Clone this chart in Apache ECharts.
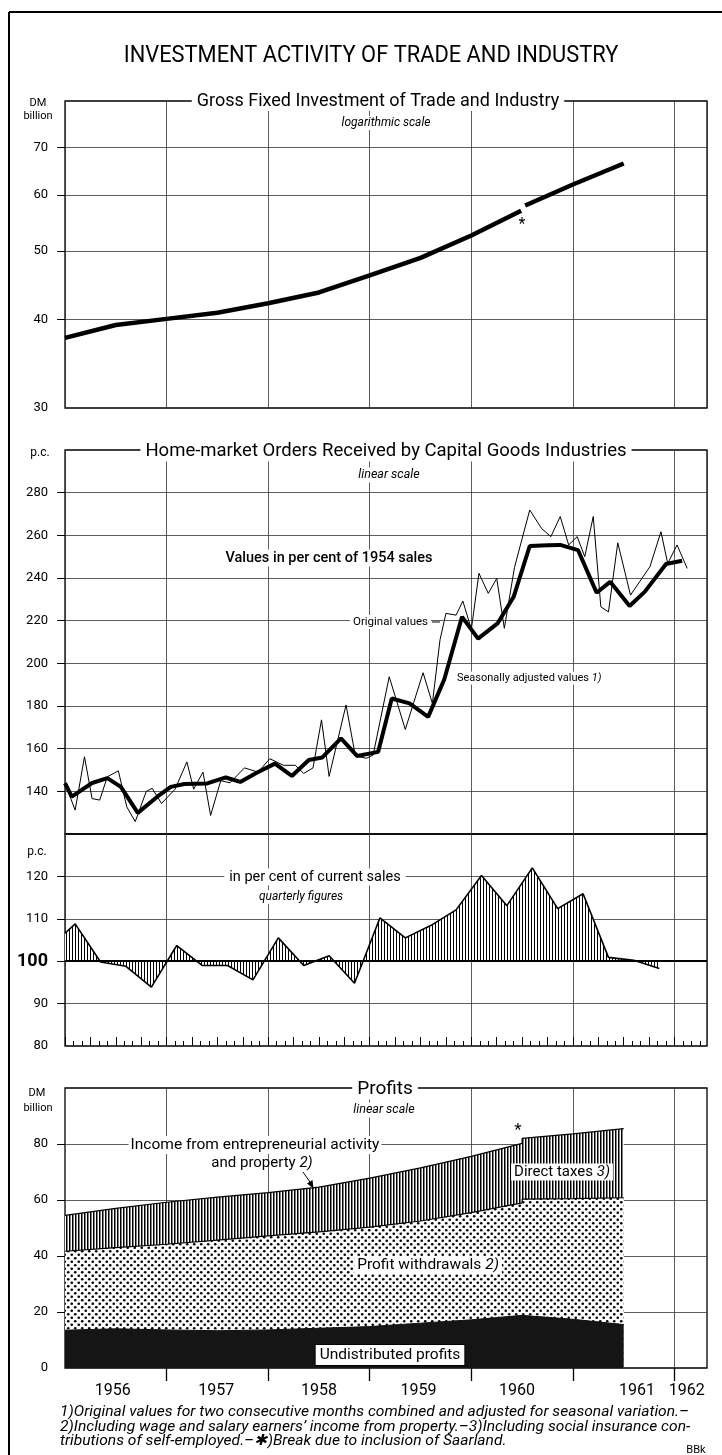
<!DOCTYPE html>
<html><head><meta charset="utf-8">
<script src="https://cdn.jsdelivr.net/npm/echarts@6/dist/echarts.min.js"></script>
<style>html,body{margin:0;padding:0;background:#fff}#c{width:722px;height:1455px}</style>
</head><body><div id="c"></div><script>
// ---------------- DATA ----------------
const YEARS = ['1956','1957','1958','1959','1960','1961','1962'];
const yearLabelPos = [1956.47,1957.49,1958.5,1959.48,1960.45,1961.63,1962.12];
const yearBounds = [1957,1958,1959,1960,1961,1962];

// Panel 1: gross fixed investment, DM billion (log scale), break 1960 (Saarland)
const invX1 = [1956.0,1956.5,1957.0,1957.5,1958.0,1958.5,1959.0,1959.5,1960.0,1960.49];
const invV1 = [37.7,39.3,40.1,40.9,42.2,43.7,46.2,48.9,52.6,57.0];
const invX2 = [1960.53,1961.0,1961.5];
const invV2 = [58.0,62.1,66.5];
const invTicks = [30,40,50,60,70];

// Panel 2: home-market orders, p.c. of 1954 sales (month index from Jan 1956)
const origM = [0,1.2,2.3,3.2,4.1,5.0,6.3,7.3,8.3,9.6,10.3,11.4,13.0,14.4,15.2,16.3,17.2,18.4,19.5,21.2,22.8,24.2,25.8,27.2,28.2,29.3,30.3,31.2,33.2,34.3,35.6,36.4,38.3,40.2,42.3,43.4,44.3,45.0,46.2,47.0,48.0,48.9,50.0,51.0,51.9,53.1,54.9,56.3,57.4,58.5,59.5,60.5,61.4,62.4,63.3,64.2,65.3,66.8,69.1,70.4,71.2,72.3,73.5];
const origV = [143.8,131.2,156.2,136.6,135.9,146.8,149.6,132.7,125.8,140.0,141.4,134.3,141.0,153.8,141.0,149.0,128.7,145.0,144.0,151.0,149.0,155.3,152.2,152.2,148.4,151.0,173.5,147.0,180.5,156.6,155.5,157.0,193.7,169.0,195.6,181.2,211.0,223.4,222.6,229.2,216.0,242.2,232.8,239.8,216.4,245.0,271.9,263.2,259.4,268.8,255.5,259.4,250.0,268.8,226.5,224.1,256.5,232.0,245.3,261.7,246.8,255.5,244.5];
const saM = [0,0.8,3.2,5.0,6.6,8.6,10.9,12.5,14.1,16.8,19.0,20.7,22.7,24.8,26.8,28.8,30.4,32.6,34.5,37.0,38.6,40.7,42.9,44.8,46.9,48.8,51.1,53.0,54.9,57.0,58.5,60.6,62.8,64.4,66.7,68.5,71.0,72.9];
const saV = [143.8,137.5,143.9,146.2,142.1,129.9,137.5,142.1,143.4,143.7,146.5,144.4,148.8,153.0,147.2,154.7,155.9,164.8,156.6,158.5,183.5,181.2,174.9,192.4,221.8,211.6,218.7,231.2,255.0,255.4,255.5,253.1,233.1,238.2,226.9,233.6,246.6,248.1];
const ordTicks = [140,160,180,200,220,240,260,280];

// Panel 2 lower: in per cent of current sales, quarterly
const qX = [1956.0,1956.1,1956.35,1956.6,1956.85,1957.1,1957.35,1957.6,1957.85,1958.1,1958.35,1958.6,1958.85,1959.1,1959.35,1959.6,1959.85,1960.1,1960.35,1960.6,1960.85,1961.1,1961.35,1961.6,1961.85];
const qV = [106.6,108.8,99.8,98.8,93.9,103.7,99.0,99.0,95.6,105.5,99.0,101.3,94.8,110.2,105.5,108.4,112.1,120.2,113.1,122.0,112.4,115.9,100.9,100.2,98.3];
const qTicks = [80,90,100,110,120];

// Panel 3: profits, DM billion (upper edges of the bands), break 1960
const profX = [1956.0,1956.5,1957.0,1957.5,1958.0,1958.5,1959.0,1959.5,1960.0,1960.5,1960.5,1961.0,1961.5];
const incomeTotal = [54.5,57.0,59.2,61.0,62.6,64.6,67.8,71.5,75.6,80.2,82.0,83.6,85.5];
const withdrawalsTop = [41.7,43.0,44.2,45.7,47.2,48.6,50.3,52.5,55.5,59.0,60.3,60.5,60.8];
const undistributed = [13.5,14.0,13.6,13.3,13.6,14.2,14.8,16.0,17.2,18.8,18.8,17.4,15.5];
const profTicks = [0,20,40,60,80];

// ---------------- HELPERS ----------------
const FONT = 'Roboto, "Liberation Sans", Arial, sans-serif';
const zip = (xs, ys) => xs.map((x, i) => [x, ys[i]]);
const mToYear = m => 1956 + m / 12;

function hatch(period, lw) {
  const c = document.createElement('canvas'); c.width = period; c.height = 4;
  const g = c.getContext('2d'); g.fillStyle = '#fff'; g.fillRect(0, 0, period, 4);
  g.fillStyle = '#000'; g.fillRect(0, 0, lw, 4); return c;
}
function dots() {
  const c = document.createElement('canvas'); c.width = 7; c.height = 7;
  const g = c.getContext('2d'); g.fillStyle = '#fff'; g.fillRect(0, 0, 7, 7);
  g.fillStyle = '#000';
  g.beginPath(); g.arc(1.75, 1.75, 1.3, 0, Math.PI * 2); g.fill();
  g.beginPath(); g.arc(5.25, 5.25, 1.3, 0, Math.PI * 2); g.fill();
  return c;
}
const GRIDLINE = { color: '#333', width: 0.8 };
const L = 65, W = 642, XMIN = 1956, XMAX = 1962.32;

function xAx(gi, extra) {
  return Object.assign({
    type: 'value', gridIndex: gi, position: 'bottom', min: XMIN, max: XMAX, interval: 1,
    axisLine: { show: false }, axisTick: { show: false }, axisLabel: { show: false },
    splitLine: { show: true, lineStyle: GRIDLINE }
  }, extra || {});
}
function yAx(gi, min, max, interval, labels, extra) {
  return Object.assign({
    type: 'value', gridIndex: gi, position: 'left', min: min, max: max, interval: interval,
    axisLine: { show: false },
    axisTick: { show: true, customValues: labels.filter(v => v > min), length: 8, lineStyle: { color: '#000', width: 1 } },
    axisLabel: { show: true, customValues: labels, margin: 17, fontSize: 13, fontFamily: FONT, color: '#000' },
    splitLine: { show: true, lineStyle: GRIDLINE }
  }, extra || {});
}

function txt(x, y, text, size, o) {
  o = o || {};
  const st = {
    text: text, fontSize: size, fontFamily: FONT, fontStyle: o.italic ? 'italic' : 'normal',
    fontWeight: o.weight || 'normal', fill: '#000', align: o.align || 'center', verticalAlign: 'middle',
    rich: { i: { fontStyle: 'italic', fontSize: size, fontFamily: FONT } }
  };
  if (o.bg !== false) { st.backgroundColor = '#fff'; st.padding = o.pad || [1, 3]; }
  if (o.border) { st.borderColor = '#000'; st.borderWidth = 1; }
  const el = { type: 'text', x: x, y: y, z: 100, silent: true, style: st };
  if (o.sx) el.scaleX = o.sx;
  return el;
}
function ln(x1, y1, x2, y2, w) {
  return { type: 'line', z: 100, silent: true, shape: { x1, y1, x2, y2 }, style: { stroke: '#000', lineWidth: w || 1 } };
}

const graphics = [
  ln(9, 12, 722, 12, 2), ln(9, 12, 9, 1455, 2),
  txt(371, 56, 'INVESTMENT ACTIVITY OF TRADE AND INDUSTRY', 23, { bg: false, sx: 0.95 }),
  // panel 1
  txt(378, 101, 'Gross Fixed Investment of Trade and Industry', 18, { pad: [1, 5] }),
  txt(386, 123, 'logarithmic scale', 12, { italic: true }),
  txt(38, 103, 'DM', 11, { bg: false }), txt(38, 116, 'billion', 11, { bg: false }),
  txt(522, 225, '*', 16, { bg: false }),
  // panel 2
  txt(40, 453, 'p.c.', 12, { bg: false }),
  txt(386, 451, 'Home-market Orders Received by Capital Goods Industries', 18.5, { pad: [1, 5] }),
  txt(389, 475, 'linear scale', 12.5, { italic: true }),
  txt(329, 558, 'Values in per cent of 1954 sales', 14.5, { weight: 500 }),
  txt(431, 622, 'Original values', 11.5, { align: 'right' }), ln(432, 622, 440, 622, 1),
  txt(454, 678, 'Seasonally adjusted values {i|1)}', 11, { align: 'left' }),
  txt(37, 852, 'p.c.', 12, { bg: false }),
  txt(315, 877, 'in per cent of current sales', 14.5, { pad: [1, 5] }),
  txt(301, 897, 'quarterly figures', 12, { italic: true }),
  // profits
  txt(37, 1093, 'DM', 11, { bg: false }), txt(38, 1108, 'billion', 11, { bg: false }),
  txt(385, 1089, 'Profits', 19, { pad: [1, 5] }),
  txt(384, 1110, 'linear scale', 12.5, { italic: true }),
  txt(255, 1145, 'Income from entrepreneurial activity', 15.5, { pad: [1, 2] }),
  txt(262, 1163, 'and property {i|2)}', 15, { bg: false }),
  ln(303, 1172, 312, 1185, 1),
  { type: 'polygon', z: 100, silent: true, shape: { points: [[313.5, 1188.5], [307, 1183.5], [312.5, 1180]] }, style: { fill: '#000' } },
  txt(518, 1131, '*', 17, { bg: false }),
  txt(562, 1172, 'Direct taxes {i|3)}', 15, { pad: [1, 3] }),
  txt(428, 1265, 'Profit withdrawals {i|2)}', 15.5, { pad: [1, 3] }),
  txt(390, 1355, 'Undistributed profits', 15.5, { pad: [2, 4], border: true }),
  // footnotes
  txt(60, 1412, '1)Original values for two consecutive months combined and adjusted for seasonal variation.\u2013', 15, { italic: true, align: 'left', bg: false, sx: 1.04 }),
  txt(60, 1427, '2)Including wage and salary earners\u2019 income from property.\u20133)Including social insurance con-', 15, { italic: true, align: 'left', bg: false, sx: 1.04 }),
  txt(60, 1441, 'tributions of self-employed.\u2013\u2731)Break due to inclusion of Saarland.', 15, { italic: true, align: 'left', bg: false, sx: 1.04 }),
  txt(696, 1450, 'BBk', 11, { bg: false })
];

const chart = echarts.init(document.getElementById('c'), null, { renderer: 'canvas' });
const gridBase = { left: L, width: W, show: true, borderColor: '#000', borderWidth: 1.3, backgroundColor: 'transparent', containLabel: false, outerBoundsMode: 'none' };

chart.setOption({
  animation: false,
  backgroundColor: '#fff',
  grid: [
    Object.assign({ top: 101, height: 307 }, gridBase),
    Object.assign({ top: 450, height: 384 }, gridBase),
    Object.assign({ top: 834, height: 212 }, gridBase),
    Object.assign({ top: 1088, height: 280 }, gridBase)
  ],
  xAxis: [
    xAx(0), xAx(1), xAx(2),
    xAx(2, { splitLine: { show: false }, axisTick: { show: true, inside: true, length: 5, customValues: Array.from({ length: 76 }, (_, i) => XMIN + i / 12), lineStyle: { color: '#000', width: 1 } } }),
    xAx(2, { splitLine: { show: false }, axisTick: { show: true, inside: true, length: 9, customValues: Array.from({ length: 25 }, (_, i) => XMIN + i / 4), lineStyle: { color: '#000', width: 1 } } }),
    xAx(3, {
      axisTick: { show: true, customValues: yearBounds, length: 13, lineStyle: { color: '#000', width: 1.3 } },
      axisLabel: { show: true, customValues: yearLabelPos, margin: 15, fontSize: 16, fontFamily: FONT, color: '#000',
        formatter: v => { let b = 0; yearLabelPos.forEach((p, i) => { if (Math.abs(p - v) < Math.abs(yearLabelPos[b] - v)) b = i; }); return YEARS[b]; } }
    })
  ],
  yAxis: [
    yAx(0, 30, 81.5, null, invTicks, { type: 'log', logBase: 10, interval: undefined }),
    yAx(1, 120, 300, 20, ordTicks),
    yAx(2, 80, 130, 10, qTicks, {
      axisLabel: { show: true, customValues: qTicks, margin: 17, fontSize: 13, fontFamily: FONT, color: '#000',
        formatter: v => v === 100 ? '{b|100}' : String(v), rich: { b: { fontSize: 18, fontWeight: 'bold', fontFamily: FONT } } }
    }),
    yAx(3, 0, 100, 20, profTicks)
  ],
  graphic: { elements: graphics },
  series: [
    { type: 'line', xAxisIndex: 0, yAxisIndex: 0, data: zip(invX1, invV1), symbol: 'none', lineStyle: { color: '#000', width: 4.5 } },
    { type: 'line', xAxisIndex: 0, yAxisIndex: 0, data: zip(invX2, invV2), symbol: 'none', lineStyle: { color: '#000', width: 4.5 } },
    { type: 'line', xAxisIndex: 1, yAxisIndex: 1, data: zip(origM.map(mToYear), origV), symbol: 'none', lineStyle: { color: '#000', width: 1 } },
    { type: 'line', xAxisIndex: 1, yAxisIndex: 1, data: zip(saM.map(mToYear), saV), symbol: 'none', lineStyle: { color: '#000', width: 4 } },
    { type: 'line', xAxisIndex: 2, yAxisIndex: 2, data: zip(qX, qV), symbol: 'none', lineStyle: { color: '#000', width: 1.6 },
      areaStyle: { origin: 100, opacity: 1, color: { image: hatch(3, 1), repeat: 'repeat' } },
      markLine: { silent: true, symbol: 'none', label: { show: false }, lineStyle: { color: '#000', width: 2.2, type: 'solid' }, data: [{ yAxis: 100 }] } },
    { type: 'line', xAxisIndex: 5, yAxisIndex: 3, data: zip(profX, incomeTotal), symbol: 'none', lineStyle: { color: '#000', width: 1.2 },
      areaStyle: { opacity: 1, color: { image: hatch(3, 1.5), repeat: 'repeat' } } },
    { type: 'line', xAxisIndex: 5, yAxisIndex: 3, data: zip(profX, withdrawalsTop), symbol: 'none', lineStyle: { color: '#000', width: 1.2 },
      areaStyle: { opacity: 1, color: { image: dots(), repeat: 'repeat' } } },
    { type: 'line', xAxisIndex: 5, yAxisIndex: 3, data: zip(profX, undistributed), symbol: 'none', lineStyle: { color: '#111', width: 1 },
      areaStyle: { opacity: 1, color: '#151515' } }
  ]
});
</script></body></html>
